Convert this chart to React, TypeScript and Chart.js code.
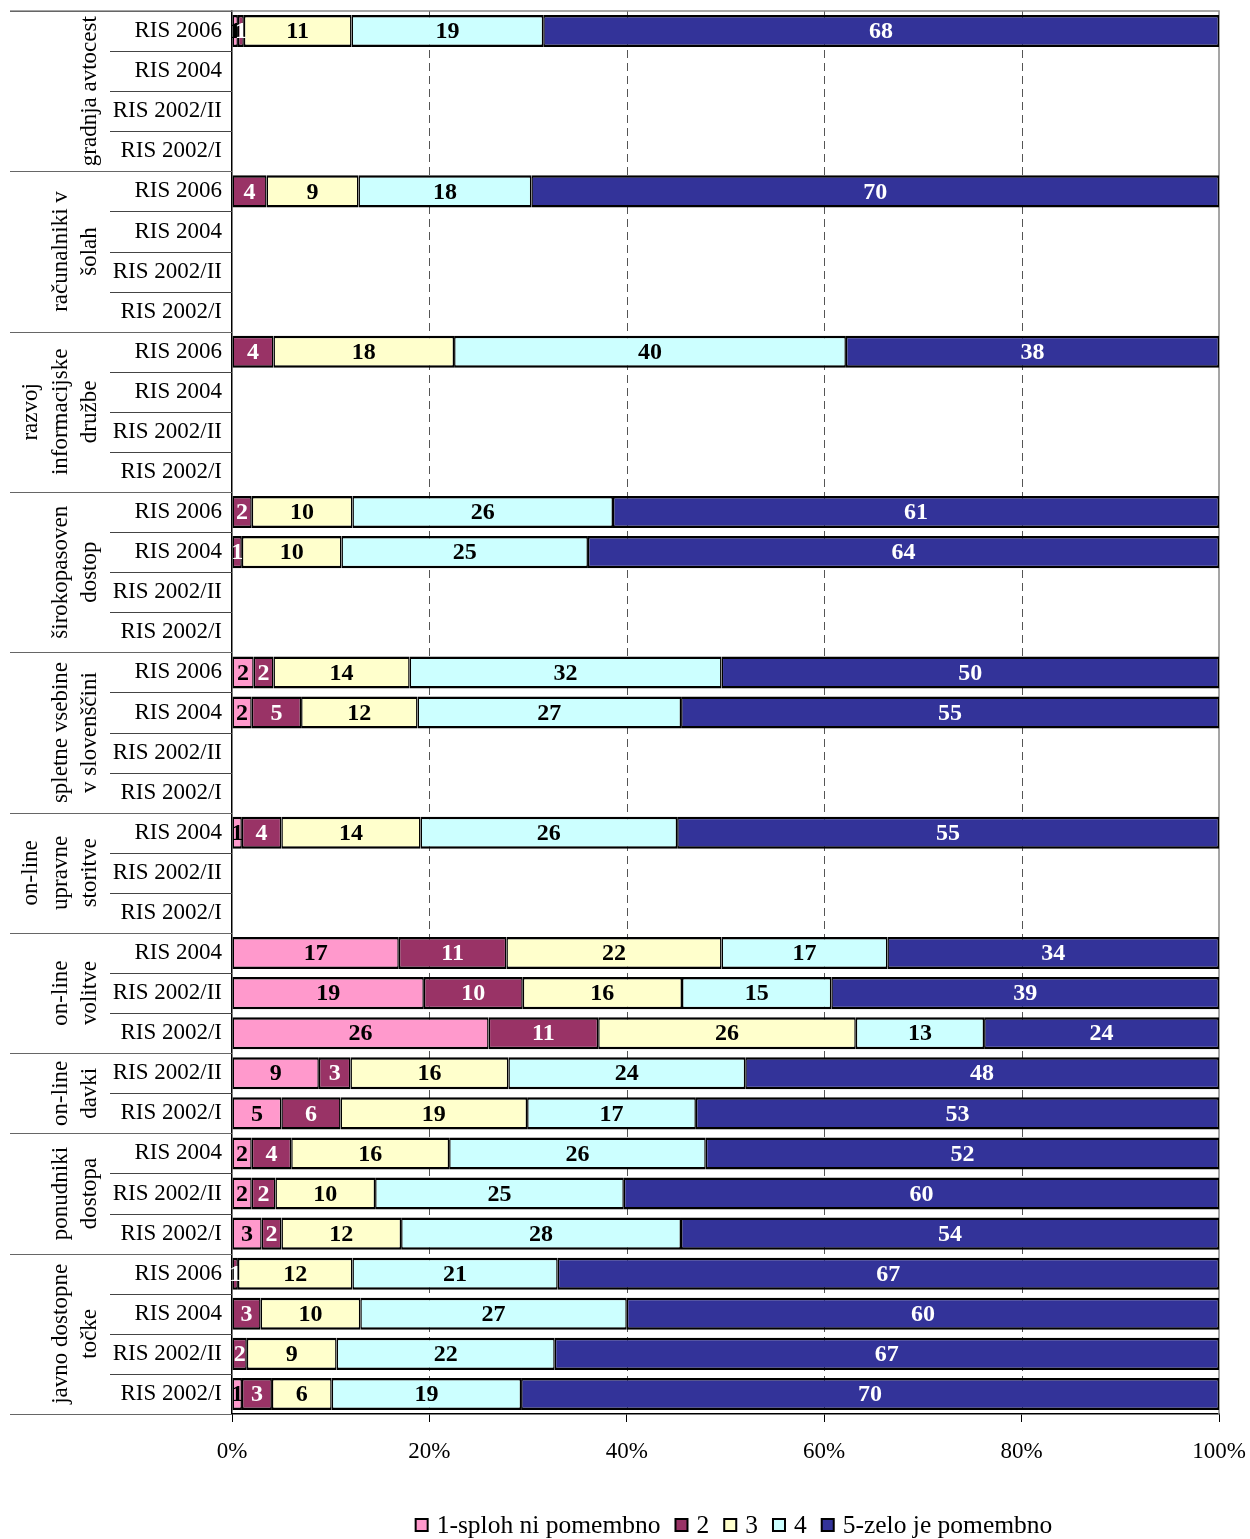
import React, { useEffect, useRef } from 'react';
import { Chart, registerables } from 'chart.js';

Chart.register(...registerables);

const FONT = '"Liberation Serif", "Times New Roman", serif';

const GROUP_LINES: string[][] = [
  ['gradnja avtocest'],
  ['računalniki v', 'šolah'],
  ['razvoj', 'informacijske', 'družbe'],
  ['širokopasoven', 'dostop'],
  ['spletne vsebine', 'v slovenščini'],
  ['on-line', 'upravne', 'storitve'],
  ['on-line', 'volitve'],
  ['on-line', 'davki'],
  ['ponudniki', 'dostopa'],
  ['javno dostopne', 'točke'],
];
const GROUP_SIZES = [4, 4, 4, 4, 4, 3, 3, 2, 3, 4];

const ROW_LABELS = [
  'RIS 2006', 'RIS 2004', 'RIS 2002/II', 'RIS 2002/I',
  'RIS 2006', 'RIS 2004', 'RIS 2002/II', 'RIS 2002/I',
  'RIS 2006', 'RIS 2004', 'RIS 2002/II', 'RIS 2002/I',
  'RIS 2006', 'RIS 2004', 'RIS 2002/II', 'RIS 2002/I',
  'RIS 2006', 'RIS 2004', 'RIS 2002/II', 'RIS 2002/I',
  'RIS 2004', 'RIS 2002/II', 'RIS 2002/I',
  'RIS 2004', 'RIS 2002/II', 'RIS 2002/I',
  'RIS 2002/II', 'RIS 2002/I',
  'RIS 2004', 'RIS 2002/II', 'RIS 2002/I',
  'RIS 2006', 'RIS 2004', 'RIS 2002/II', 'RIS 2002/I',
];

const SERIES_NAMES = ['1-sploh ni pomembno', '2', '3', '4', '5-zelo je pomembno'];
const COLORS = ['#FF99CC', '#993366', '#FFFFCC', '#CCFFFF', '#333399'];
const LABEL_COLORS = ['#000000', '#FFFFFF', '#000000', '#000000', '#FFFFFF'];

const N = null;
const S1 = [0.6, N, N, N, N, N, N, N, N, N, N, N, N, N, N, N, 2.2, 2.0, N, N, 1.0, N, N, 16.9, 19.4, 26.0, 8.8, 5.0, 2.0, 2.0, 3.0, N, N, N, 1.0];
const S2 = [0.6, N, N, N, 3.5, N, N, N, 4.2, N, N, N, 2.0, 1.0, N, N, 2.0, 5.0, N, N, 4.0, N, N, 10.9, 10.0, 11.1, 3.2, 6.0, 4.0, 2.4, 2.0, 0.6, 2.9, 1.5, 3.0];
const S3 = [10.9, N, N, N, 9.3, N, N, N, 18.3, N, N, N, 10.2, 10.1, N, N, 13.8, 11.8, N, N, 14.1, N, N, 21.8, 16.1, 26.1, 16.0, 18.9, 16.0, 10.1, 12.1, 11.6, 10.1, 9.1, 6.0];
const S4 = [19.4, N, N, N, 17.5, N, N, N, 39.7, N, N, N, 26.4, 25.0, N, N, 31.6, 26.7, N, N, 26.0, N, N, 16.8, 15.1, 13.0, 24.0, 17.1, 26.0, 25.2, 28.3, 20.8, 27.0, 22.1, 19.0];
const S5 = [68.4, N, N, N, 69.6, N, N, N, 37.8, N, N, N, 61.4, 64.0, N, N, 50.4, 54.5, N, N, 54.9, N, N, 33.6, 39.2, 23.8, 48.0, 53.0, 52.0, 60.3, 54.4, 67.0, 60.0, 67.3, 70.0];

const X_TICKS = [0, 20, 40, 60, 80, 100];

const RAW = [S1, S2, S3, S4, S5];

function toPercent(): (number | null)[][] {
  const sums = ROW_LABELS.map((_, r) => RAW.reduce((acc, s) => acc + (s[r] ?? 0), 0));
  return RAW.map((s) => s.map((v, r) => (v == null || sums[r] === 0 ? null : (v / sums[r]) * 100)));
}

const decorPlugin = {
  id: 'decor',
  beforeDatasetsDraw(chart: any) {
    const { ctx, chartArea: a, scales } = chart;
    const x = scales.x;
    ctx.save();
    ctx.strokeStyle = '#555555';
    ctx.lineWidth = 1;
    ctx.setLineDash([8, 5]);
    for (const v of X_TICKS) {
      if (v === 0 || v === 100) continue;
      const px = Math.round(x.getPixelForValue(v)) + 0.5;
      ctx.beginPath();
      ctx.moveTo(px, a.top);
      ctx.lineTo(px, a.bottom);
      ctx.stroke();
    }
    ctx.setLineDash([]);
    ctx.strokeStyle = '#888888';
    ctx.lineWidth = 1.5;
    ctx.beginPath();
    ctx.moveTo(10, a.top);
    ctx.lineTo(a.right, a.top);
    ctx.lineTo(a.right, a.bottom);
    ctx.stroke();
    ctx.restore();
  },
  afterDatasetsDraw(chart: any) {
    const { ctx } = chart;
    ctx.save();
    ctx.font = `bold 24px ${FONT}`;
    ctx.textAlign = 'center';
    ctx.textBaseline = 'middle';
    RAW.forEach((series, di) => {
      const meta = chart.getDatasetMeta(di);
      meta.data.forEach((bar: any, r: number) => {
        const v = series[r];
        if (v == null || v <= 0) return;
        const cx = (bar.x + bar.base) / 2;
        ctx.fillStyle = LABEL_COLORS[di];
        ctx.fillText(String(Math.round(v)), cx, bar.y + 1);
      });
    });
    ctx.restore();
  },
  afterDraw(chart: any) {
    const { ctx, chartArea: a, scales } = chart;
    const y = scales.y;
    const rowH = (a.bottom - a.top) / ROW_LABELS.length;
    ctx.save();
    ctx.lineWidth = 1;
    const groupStarts: number[] = [];
    let acc = 0;
    GROUP_SIZES.forEach((g) => {
      groupStarts.push(acc);
      acc += g;
    });
    for (let i = 0; i <= ROW_LABELS.length; i++) {
      const yy = Math.round(i < ROW_LABELS.length ? y.getPixelForValue(i) - rowH / 2 : y.getPixelForValue(i - 1) + rowH / 2) + 0.5;
      const isGroup = i === ROW_LABELS.length || groupStarts.includes(i);
      ctx.strokeStyle = isGroup ? '#666666' : '#444444';
      ctx.beginPath();
      ctx.moveTo(isGroup ? 10 : 110, yy);
      ctx.lineTo(a.left, yy);
      ctx.stroke();
    }
    ctx.fillStyle = '#000';
    ctx.font = `23px ${FONT}`;
    ctx.textAlign = 'center';
    ctx.textBaseline = 'middle';
    GROUP_LINES.forEach((lines, gi) => {
      const s = groupStarts[gi];
      const e = s + GROUP_SIZES[gi] - 1;
      const yc = (y.getPixelForValue(s) + y.getPixelForValue(e)) / 2;
      const n = lines.length;
      lines.forEach((ln, j) => {
        const xc = 90 - (n - 1 - j) * 29.5;
        ctx.save();
        ctx.translate(xc, yc);
        ctx.rotate(-Math.PI / 2);
        ctx.fillText(ln, 0, 0);
        ctx.restore();
      });
    });
    ctx.font = `25.5px ${FONT}`;
    ctx.textAlign = 'left';
    const box = 12;
    const gapIn = 9;
    const gapOut = 15;
    const widths = SERIES_NAMES.map((t) => ctx.measureText(t).width);
    const total = widths.reduce((s, w) => s + box + gapIn + w, 0) + gapOut * (SERIES_NAMES.length - 1);
    let lx = 734 - total / 2;
    const ly = 1525;
    SERIES_NAMES.forEach((t, i) => {
      ctx.fillStyle = COLORS[i];
      ctx.fillRect(lx, ly - box / 2, box, box);
      ctx.strokeStyle = '#000';
      ctx.lineWidth = 2;
      ctx.strokeRect(lx, ly - box / 2, box, box);
      ctx.fillStyle = '#000';
      ctx.fillText(t, lx + box + gapIn, ly + 1);
      lx += box + gapIn + widths[i] + gapOut;
    });
    ctx.restore();
  },
};

export default function App() {
  const ref = useRef<HTMLCanvasElement | null>(null);
  useEffect(() => {
    document.body.style.margin = '0';
    const canvas = ref.current;
    if (!canvas) return;
    const pct = toPercent();
    const chart = new Chart(canvas, {
      type: 'bar',
      data: {
        labels: ROW_LABELS,
        datasets: SERIES_NAMES.map((name, i) => ({
          label: name,
          data: pct[i],
          backgroundColor: COLORS[i],
          borderColor: '#000000',
          borderWidth: { top: 2.5, bottom: 2.5, left: 1.5, right: 1.5 },
          borderSkipped: false,
          barPercentage: 0.8,
          categoryPercentage: 1,
        })),
      },
      options: {
        indexAxis: 'y',
        responsive: false,
        maintainAspectRatio: false,
        animation: false,
        devicePixelRatio: 1,
        events: [],
        layout: { padding: { top: 11, right: 31, bottom: 65, left: 0 } },
        plugins: {
          legend: { display: false },
          tooltip: { enabled: false },
          title: { display: false },
        },
        scales: {
          x: {
            type: 'linear',
            stacked: true,
            min: 0,
            max: 100,
            position: 'bottom',
            ticks: {
              stepSize: 20,
              callback: (v: any) => `${v}%`,
              font: { family: FONT, size: 23 },
              color: '#000',
              padding: 16,
              maxRotation: 0,
              autoSkip: false,
            },
            grid: { display: true, drawOnChartArea: false, drawTicks: true, tickLength: 8, tickColor: '#000', tickWidth: 1 },
            border: { display: true, color: '#000', width: 1.5 },
            afterFit: (s: any) => {
              s.height = 60;
              s.paddingLeft = 0;
              s.paddingRight = 0;
            },
          },
          y: {
            type: 'category',
            stacked: true,
            ticks: { font: { family: FONT, size: 23 }, color: '#000', padding: 10, autoSkip: false },
            grid: { display: false, drawTicks: false },
            border: { display: true, color: '#000', width: 1.5 },
            afterFit: (s: any) => {
              s.width = 232;
              s.paddingTop = 0;
              s.paddingBottom = 0;
            },
          },
        },
      } as any,
      plugins: [decorPlugin],
    });
    return () => chart.destroy();
  }, []);
  return (
    <div style={{ width: 1250, height: 1539, background: '#fff' }}>
      <canvas ref={ref} width={1250} height={1539} style={{ display: 'block' }} />
    </div>
  );
}
